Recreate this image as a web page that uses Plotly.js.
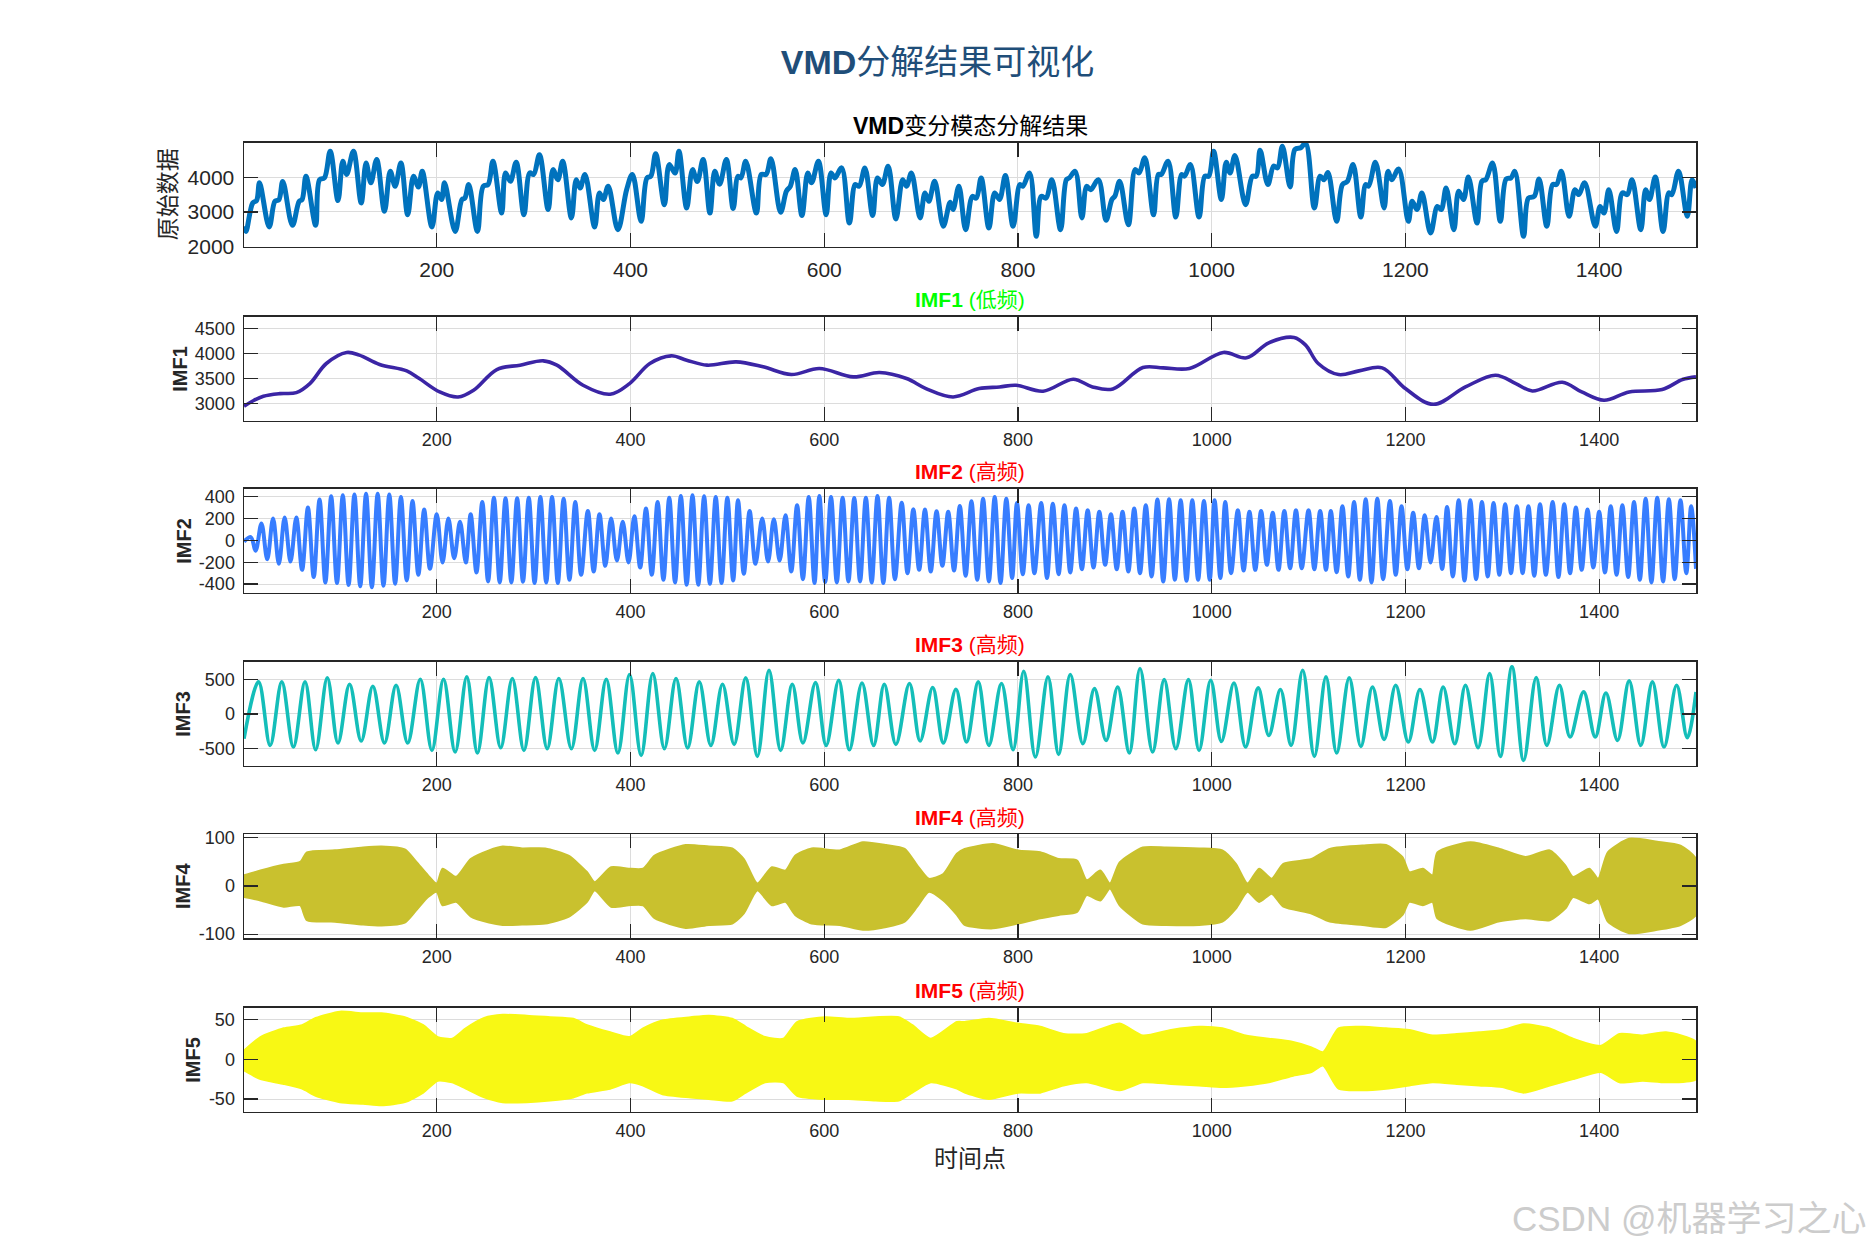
<!DOCTYPE html>
<html><head><meta charset="utf-8">
<script src="https://cdn.plot.ly/plotly-3.0.1.min.js"></script>
<style>html,body{margin:0;padding:0;background:#fff;}#chart{width:1875px;height:1250px;}</style>
</head><body><div id="chart"></div>
<script>
// ---------------- data ----------------
const xTicks = [200, 400, 600, 800, 1000, 1200, 1400];

// original series: extrema and shoulders
const origX = [1,3,10,14,17,27,33,37,41,51,58,61,65,75,79,84,90,98,103,107,114,122,127,132,138,146,152,157,163,170,176,181,185,195,201,205,208,219,226,229,233,242,248,253,258,267,271,276,282,290,296,300,306,315,320,325,330,339,344,348,353,363,368,372,377,387,396,402,411,417,421,426,435,440,446,450,458,464,469,475,482,487,492,499,506,
511,514,519,530,535,540,545,555,561,565,570,577,583,587,594,602,607,611,618,626,632,636,642,650,655,660,666,674,681,685,690,699,704,708,714,723,730,733,739,746,753,757,762,770,776,781,787,795,802,805,812,819,824,829,835,844,850,853,859,866,871,875,883,891,897,900,905,914,921,925,931,940,945,948,955,963,969,972,978,987,993,997,1002,
1010,1015,1019,1024,1035,1042,1046,1050,1058,1064,1068,1073,1081,1086,1092,1097,1106,1112,1116,1120,1129,1135,1140,1146,1154,1159,1162,1169,1178,1182,1186,1193,1203,1207,1212,1217,1226,1233,1237,1242,1250,1255,1260,1265,1274,1279,1283,1290,1298,1304,1309,1313,1322,1327,1333,1338,1346,1352,1356,1361,1369,1375,1379,1385,1396,1401,1405,1410,1418,1424,1429,1434,1443,1448,1452,1458,1466,1472,1475,1482,1491,1496,1500];
const origY = [2590,2440,3260,3330,3840,2570,3310,3350,3880,2615,3310,3360,4030,2615,3930,3980,4750,3330,4460,4080,4750,3260,4410,3840,4510,3020,4170,3740,4410,2920,4030,3720,4170,2570,3550,3360,3840,2440,3360,3400,3790,2440,3740,3790,4460,2970,4125,3885,4430,2920,4125,4080,4650,3070,4220,3930,4460,2830,3930,3690,4080,2570,3550,3360,3740,2490,3640,4080,2730,3980,4030,4680,3210,4365,4120,4750,3115,4220,3880,4510,2970,4170,3800,4510,3100,
4030,3980,4460,2970,4080,4080,4530,2990,3600,3740,4220,2900,4125,3840,4460,2920,4125,3980,4270,2680,3790,3740,4270,2900,3980,3790,4320,2800,3930,3740,4125,2830,3550,3310,3885,2590,3280,3070,3740,2490,3450,3400,3980,2540,3550,3360,4050,2590,3790,3740,4125,2300,3450,3400,3930,2490,3930,3980,4170,2830,3740,3640,3930,2760,3360,3450,3885,2635,4220,4125,4560,2920,4080,4080,4460,2855,4080,4030,4365,2855,4030,4030,4750,
3360,4430,4125,4625,3210,4030,4030,4780,3790,4320,4270,4890,3720,4800,4850,4980,3115,4030,3930,4140,2730,3790,3880,4365,2855,3790,3740,4430,3115,4170,3930,4240,2730,3310,3070,3550,2395,3160,3070,3690,2490,3600,3360,4010,2680,3885,3930,4410,2730,3950,3980,4170,2300,3400,3450,3950,2590,3790,3790,4170,2875,3640,3500,3840,2590,3160,2970,3640,2440,3550,3500,3930,2490,3640,3360,4010,2440,3550,3500,4170,2875,3930,3690];

// IMF1 (low frequency trend)
const imf1X = [1,10,21,38,55,69,86,107,120,141,169,182,203,222,238,262,286,310,324,351,379,399,420,442,458,479,509,537,566,595,630,657,685,705,733,760,781,798,826,857,877,898,929,950,977,1012,1036,1059,1085,1097,1110,1131,1152,1176,1200,1229,1262,1293,1314,1331,1362,1382,1405,1431,1465,1486,1500];
const imf1Y = [2947,3053,3147,3200,3220,3400,3800,4020,3967,3780,3653,3500,3233,3133,3267,3680,3767,3853,3767,3367,3187,3400,3800,3953,3867,3767,3833,3733,3580,3700,3533,3620,3500,3300,3133,3300,3333,3367,3247,3487,3333,3293,3720,3713,3700,4020,3913,4213,4320,4167,3800,3580,3653,3713,3300,2987,3333,3567,3400,3253,3427,3233,3067,3233,3280,3480,3533];

// IMF2: peaks and troughs
const imf2X = [1,8,13,19,25,31,37,43,49,55,61,67,73,79,85,91,97,103,109,115,121,127,133,139,145,151,157,163,169,175,181,187,193,200,206,212,218,224,230,235,241,247,253,259,265,271,277,283,289,295,301,307,313,319,325,331,337,343,349,356,362,368,374,380,386,392,398,404,410,416,422,428,434,440,446,452,458,464,470,476,482,488,494,500,506,511,517,523,529,536,542,548,554,560,566,572,578,584,590,595,601,607,613,619,625,631,637,643,649,655,661,667,673,680,686,692,698,704,710,716,722,728,734,740,746,752,758,764,770,776,782,788,794,799,805,811,817,824,830,836,842,848,854,860,866,872,878,884,890,896,902,908,914,920,926,932,938,944,950,956,962,968,974,980,986,992,998,1003,1009,1014,1020,1027,1033,1039,1045,1051,1057,1063,1069,1075,1081,1087,1093,1100,1106,1112,1118,1123,1129,1135,1141,1147,1153,1159,1165,1171,1177,1184,1190,1196,1202,1208,1214,1220,1226,1232,1238,1243,1249,1255,1261,1267,1273,1279,1285,1291,1297,1303,1309,1315,1321,1327,1333,1339,1345,1352,1358,1364,1370,1376,1382,1388,1394,1400,1406,1412,1418,1424,1430,1436,1442,1448,1454,1460,1466,1472,1478,1484,1490,1495,1500];
const imf2Y = [-12,30,-94,155,-173,200,-215,209,-194,209,-270,300,-336,373,-385,403,-391,412,-409,421,-421,427,-430,427,-415,421,-397,397,-367,360,-315,282,-260,239,-203,200,-164,170,-203,239,-294,351,-376,391,-385,385,-385,385,-379,391,-391,397,-385,397,-391,382,-361,351,-315,270,-285,239,-233,200,-185,170,-203,221,-248,291,-315,351,-361,391,-385,406,-406,412,-406,403,-397,397,-391,391,-367,367,-306,270,-215,200,-194,194,-185,230,-285,321,-355,397,-391,406,-382,397,-385,391,-376,388,-376,391,-385,406,-391,391,-355,345,-300,285,-270,282,-285,267,-233,261,-276,315,-324,357,-361,382,-376,397,-391,382,-345,342,-309,321,-300,342,-345,336,-309,321,-294,291,-264,276,-248,261,-224,239,-264,261,-285,291,-300,321,-330,373,-376,376,-361,367,-370,367,-361,360,-361,367,-345,351,-300,276,-276,261,-270,270,-224,252,-270,270,-255,276,-255,276,-264,270,-270,270,-291,312,-330,351,-361,376,-385,382,-355,360,-315,312,-264,252,-255,230,-203,215,-261,306,-330,367,-367,367,-355,351,-330,342,-315,330,-300,312,-300,312,-324,330,-315,351,-336,330,-300,300,-270,282,-248,261,-294,312,-315,321,-336,351,-361,382,-385,391,-376,376,-355,367,-300,312,-260];

// IMF3: peaks and troughs
const imf3X = [1,16,28,40,52,64,75,87,98,110,122,134,146,158,170,183,195,207,219,231,242,254,266,278,290,302,314,326,339,351,363,375,387,399,411,423,435,447,459,471,483,495,507,519,531,543,555,567,578,591,602,615,626,639,651,662,674,688,699,712,723,736,747,759,770,783,795,806,818,831,842,854,867,879,891,903,915,926,939,951,963,976,987,999,1010,1023,1035,1048,1059,1071,1082,1094,1106,1118,1129,1142,1154,1166,1178,1190,1203,1215,1228,1239,1251,1262,1275,1287,1298,1310,1322,1335,1346,1359,1370,1384,1396,1407,1419,1431,1443,1455,1467,1480,1491,1500];
const imf3Y = [-357,464,-454,464,-478,464,-517,522,-420,430,-391,401,-420,415,-420,502,-526,502,-550,536,-565,526,-488,512,-526,526,-502,512,-502,512,-526,502,-565,570,-599,584,-502,512,-492,464,-454,430,-439,522,-613,633,-526,430,-420,454,-454,488,-517,449,-454,430,-439,440,-391,382,-420,357,-406,464,-454,440,-517,618,-623,536,-584,570,-430,367,-382,391,-565,657,-550,497,-502,497,-526,488,-396,449,-478,377,-309,353,-454,633,-613,536,-565,522,-468,391,-367,415,-406,353,-406,391,-430,415,-488,584,-613,681,-671,526,-454,415,-333,319,-333,304,-382,478,-454,464,-478,415,-343,319];

// IMF4: upper / lower envelope of the dense oscillation
const imf4X = [1,18,42,59,66,95,124,143,167,179,191,200,206,220,235,254,268,288,312,336,355,363,380,398,413,425,457,481,505,517,531,546,560,570,587,616,640,664,683,696,708,723,737,745,774,800,823,842,861,871,885,895,905,929,953,987,1011,1025,1037,1049,1062,1074,1103,1122,1156,1180,1197,1204,1218,1228,1233,1267,1296,1324,1349,1365,1373,1390,1399,1409,1431,1460,1484,1500];
const imf4Upper = [22,32,44,50,70,74,80,82,76,50,22,5,36,19,56,74,82,78,78,63,29,8,39,36,36,63,85,82,78,56,5,39,32,63,78,74,91,85,77,43,15,25,67,77,87,74,70,56,53,12,32,5,49,80,80,78,74,46,5,36,15,46,56,77,84,85,60,29,36,22,70,91,78,60,74,43,19,36,15,70,98,92,84,56];
const imf4Lower = [-23,-30,-43,-40,-71,-74,-80,-82,-76,-50,-23,-12,-40,-33,-63,-76,-81,-80,-78,-64,-33,-9,-43,-40,-40,-67,-87,-81,-78,-57,-9,-40,-33,-60,-78,-81,-91,-85,-74,-43,-12,-30,-60,-81,-88,-78,-67,-60,-54,-19,-30,-5,-40,-78,-81,-81,-74,-47,-12,-33,-16,-43,-57,-74,-81,-85,-60,-33,-40,-33,-67,-91,-74,-67,-71,-47,-23,-36,-26,-74,-98,-91,-81,-60];

// IMF5: upper / lower envelope of the dense oscillation
const imf5X = [1,18,42,61,75,100,124,143,167,186,201,216,230,249,268,293,317,341,355,379,399,413,433,462,481,505,519,539,558,572,601,625,653,677,691,710,737,745,770,800,823,847,871,905,929,958,987,1011,1035,1059,1083,1103,1115,1131,1156,1180,1204,1228,1253,1276,1300,1322,1349,1373,1402,1421,1445,1469,1500];
const imf5Upper = [11,28,39,43,52,60,58,58,53,43,28,26,39,52,56,55,53,51,43,34,28,39,49,53,55,51,41,28,26,47,53,51,53,53,43,26,47,47,51,45,41,32,32,45,30,37,41,39,30,26,22,15,9,39,41,39,37,30,32,34,37,44,39,26,17,32,30,34,22];
const imf5Lower = [-14,-25,-31,-37,-46,-54,-56,-58,-54,-42,-27,-29,-37,-48,-54,-54,-52,-48,-42,-37,-29,-33,-44,-48,-50,-52,-42,-29,-29,-46,-50,-50,-52,-52,-42,-29,-37,-42,-50,-42,-42,-33,-29,-39,-29,-31,-33,-35,-33,-29,-21,-16,-8,-37,-39,-37,-33,-29,-31,-33,-35,-42,-33,-25,-16,-29,-27,-29,-25];

const subTitles = ['<b>VMD</b>变分模态分解结果', '<b>IMF1</b> (低频)', '<b>IMF2</b> (高频)', '<b>IMF3</b> (高频)', '<b>IMF4</b> (高频)', '<b>IMF5</b> (高频)'];
const yTitles = ['原始数据', '<b>IMF1</b>', '<b>IMF2</b>', '<b>IMF3</b>', '<b>IMF4</b>', '<b>IMF5</b>'];
const yRanges = [[2000, 4995], [2660, 4733], [-479, 473], [-748, 756], [-108, 108], [-66, 65]];
const yTickVals = [[2000, 3000, 4000], [3000, 3500, 4000, 4500], [-400, -200, 0, 200, 400], [-500, 0, 500], [-100, 0, 100], [-50, 0, 50]];

// ---------------- styling / layout ----------------
const W = 1875, H = 1250;
const FONT = 'Liberation Sans, Arial, Helvetica, Noto Sans CJK SC, sans-serif';
const xL = 244 / W, xR = 1696 / W;
const tops = [142.7, 316.7, 488.7, 661.7, 834, 1007.7];
const PH = 104;
const titleColors = ['#000000', '#00FF00', '#FF0000', '#FF0000', '#FF0000', '#FF0000'];
const yTitleX = [167.5, 180, 184, 183, 183, 193];
const tickSize = [21, 18, 18, 18, 18, 18];

const layout = {
  width: W, height: H, autosize: false,
  margin: {l: 0, r: 0, t: 0, b: 0},
  paper_bgcolor: '#ffffff', plot_bgcolor: '#ffffff',
  showlegend: false,
  font: {family: FONT, color: '#262626'},
  title: {text: '<b>VMD</b>分解结果可视化', x: 0.5, xanchor: 'center', xref: 'paper',
          y: 1 - 62 / H, yanchor: 'middle', yref: 'container',
          font: {family: FONT, size: 34, color: '#1F4E79'}},
  annotations: []
};

for (let i = 0; i < 6; i++) {
  const s = i ? String(i + 1) : '';
  const yd = [1 - (tops[i] + PH) / H, 1 - tops[i] / H];
  layout['xaxis' + s] = {
    domain: [xL, xR], anchor: 'y' + s, range: [1, 1500],
    tickmode: 'array', tickvals: xTicks, ticktext: xTicks.map(String),
    ticks: 'inside', ticklen: 14, tickwidth: 1.2, tickcolor: '#262626',
    showline: true, linecolor: '#262626', linewidth: 1.5, mirror: 'ticks',
    showgrid: true, gridcolor: '#DCDCDC', gridwidth: 1, zeroline: false,
    tickfont: {family: FONT, size: tickSize[i], color: '#262626'},
    ticklabelstandoff: i === 0 ? 4 : 2, fixedrange: true
  };
  layout['yaxis' + s] = {
    domain: yd, anchor: 'x' + s, range: yRanges[i],
    tickmode: 'array', tickvals: yTickVals[i], ticktext: yTickVals[i].map(String),
    ticks: 'inside', ticklen: 14, tickwidth: 1.2, tickcolor: '#262626',
    showline: true, linecolor: '#262626', linewidth: 1.5, mirror: 'ticks',
    showgrid: true, gridcolor: '#DCDCDC', gridwidth: 1, zeroline: false,
    tickfont: {family: FONT, size: tickSize[i], color: '#262626'},
    ticklabelstandoff: 4, fixedrange: true
  };
  layout.annotations.push({
    text: subTitles[i], xref: 'paper', yref: 'paper',
    x: (xL + xR) / 2, y: 1 - (tops[i] - 17) / H, xanchor: 'center', yanchor: 'middle',
    showarrow: false, font: {family: FONT, size: i === 0 ? 23 : 21, color: titleColors[i]}
  });
  layout.annotations.push({
    text: yTitles[i], xref: 'paper', yref: 'paper', textangle: -90,
    x: yTitleX[i] / W, y: 1 - (tops[i] + PH / 2) / H, xanchor: 'center', yanchor: 'middle',
    showarrow: false, font: {family: FONT, size: i === 0 ? 23 : 20, color: '#262626'}
  });
}
layout.annotations.push({
  text: '时间点', xref: 'paper', yref: 'paper', x: (xL + xR) / 2, y: 1 - 1158 / H,
  xanchor: 'center', yanchor: 'middle', showarrow: false,
  font: {family: FONT, size: 24, color: '#262626'}
});
layout.annotations.push({
  text: 'CSDN @机器学习之心', xref: 'paper', yref: 'paper', x: 1868 / W, y: 1 - 1218 / H,
  xanchor: 'right', yanchor: 'middle', showarrow: false,
  font: {family: FONT, size: 35, color: '#CCCCCC'}
});

function lineTrace(x, y, i, color, width) {
  const s = i ? String(i + 1) : '';
  return {x: x, y: y, xaxis: 'x' + s, yaxis: 'y' + s, type: 'scatter', mode: 'lines',
          line: {color: color, width: width, shape: 'spline', smoothing: 1}, hoverinfo: 'skip'};
}
function bandTrace(x, up, lo, i, color) {
  const s = i ? String(i + 1) : '';
  const px = x.concat(x.slice().reverse());
  const py = up.concat(lo.slice().reverse());
  return {x: px, y: py, xaxis: 'x' + s, yaxis: 'y' + s, type: 'scatter', mode: 'lines',
          fill: 'toself', fillcolor: color,
          line: {color: color, width: 2, shape: 'spline', smoothing: 0.6}, hoverinfo: 'skip'};
}

const data = [
  lineTrace(origX, origY, 0, '#0072BD', 5),
  lineTrace(imf1X, imf1Y, 1, '#3B25A5', 3.6),
  lineTrace(imf2X, imf2Y, 2, '#377DFF', 4),
  lineTrace(imf3X, imf3Y, 3, '#14BEB9', 3.6),
  bandTrace(imf4X, imf4Upper, imf4Lower, 4, '#C9C12E'),
  bandTrace(imf5X, imf5Upper, imf5Lower, 5, '#F8F814')
];

Plotly.newPlot('chart', data, layout, {staticPlot: true, displayModeBar: false});
</script></body></html>
